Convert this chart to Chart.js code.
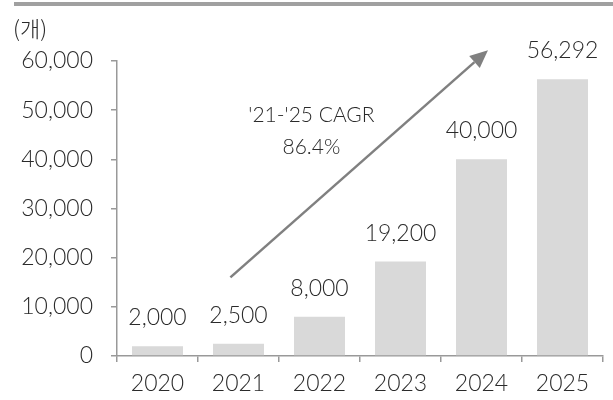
<!DOCTYPE html>
<html>
<head>
<meta charset="utf-8">
<script src="https://cdn.jsdelivr.net/npm/chart.js@4"></script>
<style>
  html, body { margin: 0; padding: 0; background: #fff; }
  #wrap { width: 613px; height: 400px; }
</style>
</head>
<body>
<div id="wrap"><canvas id="chart"></canvas></div>
<script>
// data
var years = ['2020', '2021', '2022', '2023', '2024', '2025'];
var counts = [2000, 2500, 8000, 19200, 40000, 56292];
var yTicks = [0, 10000, 20000, 30000, 40000, 50000, 60000];
var unitLabel = '(개)';
var cagrText = ["'21-'25 CAGR", '86.4%'];
// arrow ends, in (category index, value)
var arrowFrom = [0.9, 16000];
var arrowTo = [4.08, 62200];

var FONT = "Lato, 'Noto Sans CJK KR', sans-serif";
var TEXT = '#2a2a2a';

var decorations = {
  id: 'decorations',
  afterDraw: function (chart) {
    var ctx = chart.ctx;
    var xs = chart.scales.x, ys = chart.scales.y;
    ctx.save();

    // grey rule along the top
    ctx.fillStyle = '#a0a0a0';
    ctx.fillRect(14, 2, 599, 4);

    // unit
    ctx.fillStyle = TEXT;
    ctx.font = "300 22px 'Noto Sans CJK KR', sans-serif";
    ctx.textAlign = 'left';
    ctx.textBaseline = 'middle';
    ctx.fillText(unitLabel, 13, 29);

    // value labels on bars
    ctx.font = '300 23px ' + FONT;
    ctx.textAlign = 'center';
    ctx.textBaseline = 'bottom';
    chart.getDatasetMeta(0).data.forEach(function (bar, i) {
      ctx.fillText(counts[i].toLocaleString('en-US'), bar.x, bar.y - 17);
    });

    // CAGR arrow
    var x1 = xs.getPixelForValue(arrowFrom[0]), y1 = ys.getPixelForValue(arrowFrom[1]);
    var x2 = xs.getPixelForValue(arrowTo[0]), y2 = ys.getPixelForValue(arrowTo[1]);
    var ang = Math.atan2(y2 - y1, x2 - x1);
    var len = 18, half = 8;
    var bx = x2 - len * Math.cos(ang), by = y2 - len * Math.sin(ang);
    ctx.strokeStyle = '#808080';
    ctx.fillStyle = '#808080';
    ctx.lineWidth = 2.5;
    ctx.beginPath();
    ctx.moveTo(x1, y1);
    ctx.lineTo(bx, by);
    ctx.stroke();
    ctx.beginPath();
    ctx.moveTo(x2, y2);
    ctx.lineTo(bx + half * Math.sin(ang), by - half * Math.cos(ang));
    ctx.lineTo(bx - half * Math.sin(ang), by + half * Math.cos(ang));
    ctx.closePath();
    ctx.fill();

    // CAGR text
    ctx.fillStyle = TEXT;
    ctx.font = '300 21px ' + FONT;
    ctx.textBaseline = 'middle';
    var cx = xs.getPixelForValue(1.9);
    ctx.fillText(cagrText[0], cx, ys.getPixelForValue(49000));
    ctx.fillText(cagrText[1], cx, ys.getPixelForValue(42500));

    ctx.restore();
  }
};

new Chart(document.getElementById('chart'), {
  type: 'bar',
  data: {
    labels: years,
    datasets: [{
      data: counts,
      backgroundColor: '#d9d9d9',
      borderWidth: 0,
      categoryPercentage: 1,
      barPercentage: 0.63
    }]
  },
  options: {
    responsive: true,
    maintainAspectRatio: false,
    animation: false,
    layout: { padding: { top: 61, right: 10, left: 0, bottom: 0 } },
    plugins: { legend: { display: false }, tooltip: { enabled: false } },
    scales: {
      x: {
        grid: { display: true, drawOnChartArea: false, drawTicks: true, tickLength: 6, color: '#999999', lineWidth: 1.5, offset: true },
        border: { display: true, color: '#999999', width: 1.5 },
        ticks: { color: TEXT, font: { family: FONT, size: 23, weight: 300 }, padding: 8 },
        afterFit: function (s) { s.height = 44; }
      },
      y: {
        min: 0,
        max: 60000,
        afterBuildTicks: function (s) { s.ticks = yTicks.map(function (v) { return { value: v }; }); },
        grid: { display: true, drawOnChartArea: false, drawTicks: true, tickLength: 6, color: '#999999', lineWidth: 1.5 },
        border: { display: true, color: '#999999', width: 1.5 },
        ticks: {
          color: TEXT,
          font: { family: FONT, size: 23, weight: 300 },
          padding: 18,
          callback: function (v) { return v.toLocaleString('en-US'); }
        },
        afterFit: function (s) { s.width = 117; }
      }
    }
  },
  plugins: [decorations]
});
</script>
</body>
</html>
